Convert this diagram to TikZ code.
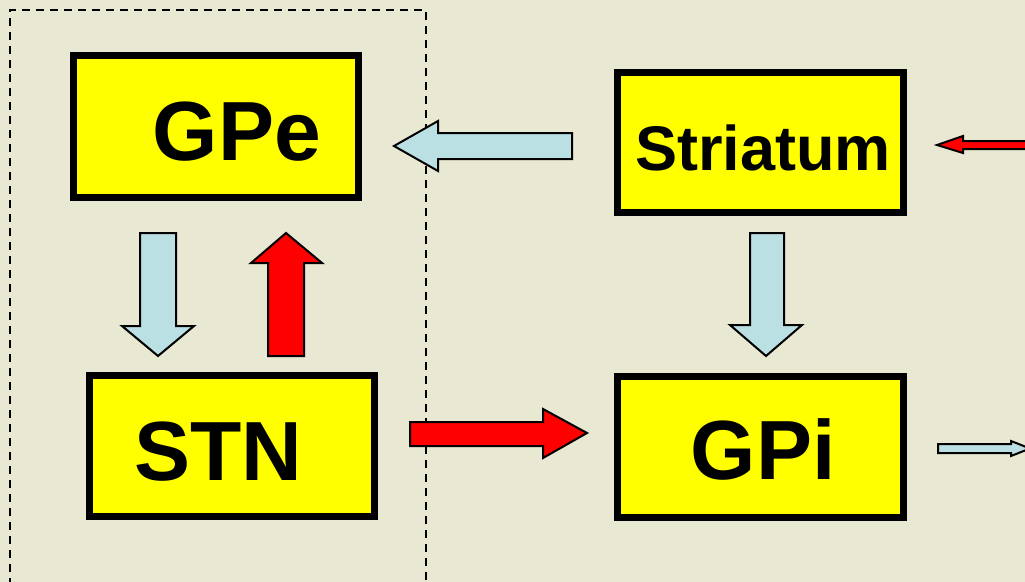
\documentclass[tikz,border=0pt]{standalone}
\usepackage{fontspec}
\setmainfont{Liberation Sans}
\definecolor{bg}{RGB}{233,232,210}
\definecolor{boxyellow}{RGB}{255,255,0}
\definecolor{arrblue}{RGB}{187,224,227}
\definecolor{arrred}{RGB}{255,0,0}
\tikzset{
  box/.style={draw=black, fill=boxyellow, line width=5pt, inner sep=0pt, outer sep=0pt, rectangle},
  biglbl/.style={font=\bfseries\fontsize{63}{63}\selectfont, inner sep=0pt, anchor=base},
  midlbl/.style={font=\bfseries\fontsize{47.3}{47.3}\selectfont, inner sep=0pt, anchor=base},
  blockarrow/.style={draw=black, line width=1.5pt, line join=miter},
  bluearrow/.style={blockarrow, fill=arrblue},
  redarrow/.style={blockarrow, fill=arrred},
  group/.style={draw=black, line width=1.1pt, dash pattern=on 6pt off 4.5pt}
}
\begin{document}
\begin{tikzpicture}[x=0.75pt,y=-0.75pt]
\fill[bg] (0,0) rectangle (1025,582);
\useasboundingbox (0,0) rectangle (1025,582);
\clip (0,0) rectangle (1025,582);
% dashed group
\draw[group] (10,600) -- (10,10) -- (426,10) -- (426,600);
% boxes
\node[box, minimum width=213.75pt, minimum height=106.5pt] (gpe) at (216,126.5) {};
\node[box, minimum width=214.5pt, minimum height=105pt] (str) at (760.5,142.5) {};
\node[box, minimum width=213.75pt, minimum height=105.75pt] (stn) at (232,446) {};
\node[box, minimum width=214.5pt, minimum height=105.75pt] (gpi) at (760.5,447) {};
% labels
\node[biglbl] (gpet) at (237,160) {GPe};
\node[midlbl] (strt) at (763,170) {Striatum};
\node[biglbl] (stnt) at (218,480) {STN};
\node[biglbl] (gpit) at (763,479) {GPi};
% arrows
\draw[bluearrow] (394,146) -- (438,121) -- (438,133) -- (572,133) -- (572,159) -- (438,159) -- (438,171) -- cycle;
\draw[bluearrow] (750,233) -- (784,233) -- (784,325) -- (802,325) -- (766,356) -- (730,325) -- (750,325) -- cycle;
\draw[bluearrow] (140,233) -- (176,233) -- (176,326) -- (194,326) -- (158,356) -- (122,326) -- (140,326) -- cycle;
\draw[redarrow] (286,233) -- (322,263) -- (304,263) -- (304,356) -- (268,356) -- (268,263) -- (251,263) -- cycle;
\draw[redarrow] (410,422) -- (543,422) -- (543,409) -- (587,433) -- (543,458) -- (543,446) -- (410,446) -- cycle;
\draw[redarrow] (937,145) -- (963,136) -- (963,141) -- (1040,141) -- (1040,149) -- (963,149) -- (963,153) -- cycle;
\draw[bluearrow] (938,444) -- (1011,444) -- (1011,441) -- (1030,448.5) -- (1011,456) -- (1011,453) -- (938,453) -- cycle;
\end{tikzpicture}
\end{document}
